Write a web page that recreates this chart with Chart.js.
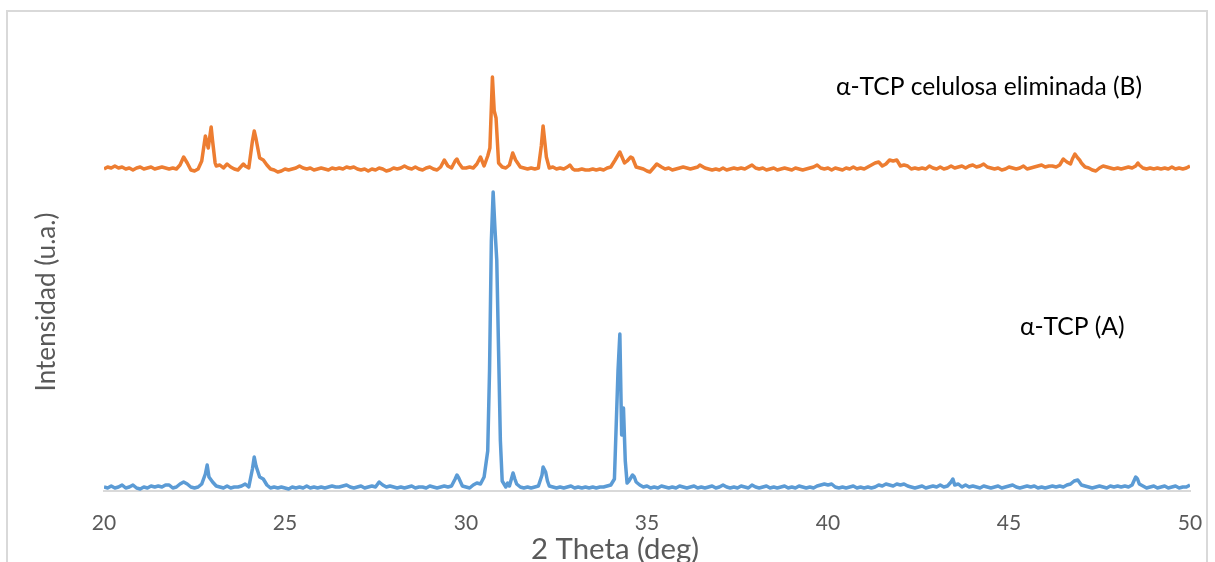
<!DOCTYPE html>
<html><head><meta charset="utf-8">
<script src="https://cdn.jsdelivr.net/npm/chart.js@4.4.0/dist/chart.umd.min.js"></script>
<style>
html,body{margin:0;padding:0;background:#fff;}
#wrap{position:relative;width:1215px;height:562px;overflow:hidden;background:#fff;}
#frame{position:absolute;left:6px;top:10px;width:1202px;height:620px;border:2px solid #d9d9d9;box-sizing:border-box;}
canvas{position:absolute;left:0;top:0;}
</style></head><body>
<div id="wrap"><div id="frame"></div><canvas id="c" width="1215" height="562"></canvas></div>
<script>
// ---- data (intensity in arbitrary units) ----
const xTicks = [20, 25, 30, 35, 40, 45, 50];
const seriesNames = ["α-TCP (A)", "α-TCP celulosa eliminada (B)"];
const xTitle = "2 Theta (deg)";
const yTitle = "Intensidad (u.a.)";

const thetaA = [
20.0,20.1,20.2,20.3,20.4,20.5,20.6,20.7,20.8,20.9,
21.0,21.1,21.2,21.3,21.4,21.5,21.6,21.7,21.8,21.9,
22.0,22.1,22.2,22.3,22.4,22.5,22.6,22.7,22.8,22.85,22.9,
23.0,23.1,23.2,23.3,23.4,23.5,23.6,23.7,23.8,23.9,
24.0,24.1,24.15,24.2,24.3,24.4,24.5,24.6,24.7,24.8,24.9,
25.0,25.1,25.2,25.3,25.4,25.5,25.6,25.7,25.8,25.9,
26.0,26.1,26.2,26.3,26.4,26.5,26.6,26.7,26.8,26.9,
27.0,27.1,27.2,27.3,27.4,27.5,27.6,27.7,27.8,27.9,
28.0,28.1,28.2,28.3,28.4,28.5,28.6,28.7,28.8,28.9,
29.0,29.1,29.2,29.3,29.4,29.5,29.6,29.7,29.75,29.8,29.9,
30.0,30.1,30.2,30.3,30.4,30.5,30.6,30.65,30.7,30.75,30.8,30.85,30.9,30.95,
31.0,31.1,31.15,31.2,31.3,31.35,31.4,31.5,31.6,31.7,31.8,31.9,
32.0,32.1,32.13,32.2,32.25,32.3,32.4,32.5,32.6,32.7,32.8,32.9,
33.0,33.1,33.2,33.3,33.4,33.5,33.6,33.7,33.8,33.9,
34.0,34.1,34.2,34.25,34.3,34.35,34.4,34.45,34.5,34.6,34.65,34.7,34.8,34.9,
35.0,35.1,35.2,35.3,35.4,35.5,35.6,35.7,35.8,35.9,
36.0,36.1,36.2,36.3,36.4,36.5,36.6,36.7,36.8,36.9,
37.0,37.1,37.2,37.3,37.4,37.5,37.6,37.7,37.8,37.9,
38.0,38.1,38.2,38.3,38.4,38.5,38.6,38.7,38.8,38.9,
39.0,39.1,39.2,39.3,39.4,39.5,39.6,39.7,39.8,39.9,
40.0,40.1,40.2,40.3,40.4,40.5,40.6,40.7,40.8,40.9,
41.0,41.1,41.2,41.3,41.4,41.5,41.6,41.7,41.8,41.9,
42.0,42.1,42.2,42.3,42.4,42.5,42.6,42.7,42.8,42.9,
43.0,43.1,43.2,43.3,43.4,43.45,43.5,43.6,43.7,43.8,43.9,
44.0,44.1,44.2,44.3,44.4,44.5,44.6,44.7,44.8,44.9,
45.0,45.1,45.2,45.3,45.4,45.5,45.6,45.7,45.8,45.9,
46.0,46.1,46.2,46.3,46.4,46.5,46.6,46.7,46.8,46.9,
47.0,47.1,47.2,47.3,47.4,47.5,47.6,47.7,47.8,47.9,
48.0,48.1,48.2,48.3,48.4,48.5,48.55,48.6,48.7,48.8,48.9,
49.0,49.1,49.2,49.3,49.4,49.5,49.6,49.7,49.8,49.9,50.0];
const intA = [
4,3,5,3,4,6,3,4,6,3,
2,4,3,5,4,5,4,6,6,3,
4,7,9,7,4,3,4,7,17,26,14,
9,5,4,3,5,3,4,4,5,7,
4,22,34,25,14,12,6,3,4,3,4,
3,2,4,3,4,3,5,3,4,3,
4,3,4,5,4,4,5,6,4,3,
4,5,3,4,5,4,9,6,4,5,
4,3,4,3,4,5,3,4,4,3,
5,4,3,4,5,4,5,12,16,13,5,
4,3,6,8,7,14,40,120,250,299,262,231,140,50,
10,4,8,5,18,12,7,4,3,4,3,4,
5,16,24,19,10,5,4,3,4,3,4,5,
3,4,3,4,3,4,3,4,4,5,
6,12,121,157,56,83,30,8,10,16,14,9,6,4,
5,3,4,3,5,4,3,4,3,5,
4,3,4,5,3,4,3,4,5,3,
4,6,4,3,4,3,5,4,3,6,
4,3,4,5,3,4,3,4,5,3,
4,3,5,4,3,4,3,5,6,7,
6,7,4,3,4,3,4,5,3,4,
3,4,3,4,6,5,7,6,5,7,
6,7,5,4,3,4,5,3,4,5,
4,6,4,5,9,12,6,7,4,6,4,
5,4,3,5,4,3,4,5,3,4,
5,6,4,3,4,5,4,5,3,4,
3,4,5,4,5,4,6,7,10,11,
6,5,4,3,4,5,4,3,5,4,
5,4,5,4,6,14,12,7,5,3,4,
5,3,4,5,3,4,5,3,4,4,6];

const thetaB = [
20.0,20.1,20.2,20.3,20.4,20.5,20.6,20.7,20.8,20.9,
21.0,21.1,21.2,21.3,21.4,21.5,21.6,21.7,21.8,21.9,
22.0,22.1,22.2,22.3,22.4,22.5,22.6,22.7,22.8,22.88,22.96,
23.0,23.07,23.1,23.2,23.3,23.4,23.5,23.6,23.7,23.8,23.85,23.9,
24.0,24.1,24.15,24.2,24.3,24.4,24.5,24.6,24.7,24.8,24.9,
25.0,25.1,25.2,25.3,25.4,25.5,25.6,25.7,25.8,25.9,
26.0,26.1,26.2,26.3,26.4,26.5,26.6,26.7,26.8,26.9,
27.0,27.1,27.2,27.3,27.4,27.5,27.6,27.7,27.8,27.9,
28.0,28.1,28.2,28.3,28.4,28.5,28.6,28.7,28.8,28.9,
29.0,29.1,29.2,29.3,29.4,29.5,29.6,29.7,29.75,29.8,29.9,
30.0,30.1,30.2,30.3,30.4,30.5,30.6,30.66,30.73,30.78,30.83,30.9,
31.0,31.1,31.2,31.29,31.37,31.5,31.6,31.7,31.8,31.9,
32.0,32.08,32.13,32.18,32.22,32.3,32.4,32.5,32.6,32.7,32.8,32.87,32.95,
33.0,33.1,33.2,33.3,33.4,33.5,33.6,33.7,33.8,33.9,
34.0,34.12,34.25,34.38,34.45,34.55,34.6,34.7,34.8,34.9,
35.0,35.08,35.2,35.27,35.4,35.5,35.6,35.7,35.8,35.9,
36.0,36.1,36.2,36.3,36.4,36.46,36.6,36.7,36.8,36.9,
37.0,37.1,37.2,37.3,37.4,37.5,37.6,37.7,37.8,37.9,
38.0,38.1,38.2,38.3,38.4,38.5,38.6,38.7,38.8,38.9,
39.0,39.1,39.2,39.3,39.4,39.5,39.6,39.7,39.8,39.9,
40.0,40.1,40.2,40.3,40.4,40.5,40.6,40.7,40.8,40.9,
41.0,41.1,41.2,41.3,41.4,41.5,41.6,41.7,41.8,41.9,
42.0,42.1,42.2,42.3,42.4,42.5,42.6,42.7,42.8,42.9,
43.0,43.1,43.2,43.3,43.4,43.5,43.6,43.7,43.8,43.9,
44.0,44.1,44.2,44.3,44.4,44.5,44.6,44.7,44.8,44.9,
45.0,45.1,45.2,45.3,45.4,45.5,45.6,45.7,45.8,45.9,
46.0,46.1,46.2,46.3,46.4,46.5,46.6,46.7,46.75,46.82,46.9,46.95,
47.0,47.1,47.2,47.3,47.4,47.5,47.6,47.7,47.8,47.9,
48.0,48.1,48.2,48.3,48.4,48.5,48.56,48.6,48.7,48.8,48.9,
49.0,49.1,49.2,49.3,49.4,49.5,49.6,49.7,49.8,49.9,50.0];
const intB = [
322,324,323,325,323,324,322,323,321,323,
324,322,323,324,322,323,324,323,322,323,
322,326,334,328,321,320,322,330,355,343,364,
350,328,325,326,323,327,324,322,321,325,327,325,
323,350,360,352,333,331,326,322,321,319,320,
322,321,322,323,325,323,322,323,321,322,
323,322,321,323,322,323,322,324,323,324,
322,321,322,320,322,321,323,322,320,321,
323,322,323,325,323,322,324,322,321,323,
324,322,321,324,331,325,323,330,332,328,323,
323,324,323,327,334,325,335,343,414,380,373,328,
324,323,326,338,331,324,323,322,323,322,
323,345,365,348,334,323,324,322,323,322,324,326,322,
321,321,322,321,321,322,321,322,321,323,
324,331,339,328,330,334,333,324,323,322,
320,319,324,327,324,322,323,321,322,323,
324,323,322,323,324,326,323,322,321,322,
321,323,321,322,323,322,323,322,324,326,
323,322,323,321,322,323,321,322,323,322,
321,323,322,321,322,323,324,326,323,322,
323,321,323,322,321,323,322,324,322,323,
322,324,326,328,329,325,327,331,330,331,
325,326,325,322,323,322,323,322,325,323,
322,324,322,323,325,323,324,325,323,325,
326,324,325,327,324,323,322,323,321,322,
324,323,322,323,325,322,323,324,325,326,
324,325,325,324,326,332,329,327,332,337,333,331,
328,324,323,321,320,323,325,324,323,322,
323,322,323,324,323,325,328,326,323,322,323,
322,323,322,323,322,324,322,323,322,323,325];

// ---- chart ----
const toPts = (xs, ys) => xs.map((x, i) => ({ x: x, y: ys[i] }));

const textPlugin = {
  id: 'texts',
  afterDraw(chart) {
    const ctx = chart.ctx;
    const fam = 'Lato, "Open Sans", sans-serif';
    function fitSize(text, width) {
      ctx.font = '100px ' + fam;
      return 100 * width / ctx.measureText(text).width;
    }
    ctx.save();
    const ys = fitSize(yTitle, 179);
    ctx.font = ys + 'px ' + fam;
    ctx.fillStyle = '#595959';
    ctx.textAlign = 'center';
    ctx.textBaseline = 'middle';
    ctx.translate(47, 302);
    ctx.rotate(-Math.PI / 2);
    ctx.fillText(yTitle, 0, 0);
    ctx.restore();
    ctx.save();
    const xs = fitSize(xTitle, 168);
    ctx.font = xs + 'px ' + fam;
    ctx.fillStyle = '#595959';
    ctx.textAlign = 'center';
    ctx.textBaseline = 'middle';
    ctx.fillText(xTitle, 615, 550);
    const ls = fitSize(seriesNames[1], 306);
    ctx.font = ls + 'px ' + fam;
    ctx.fillStyle = '#000000';
    ctx.textAlign = 'left';
    ctx.fillText(seriesNames[1], 836, 87);
    ctx.fillText(seriesNames[0], 1020, 327);
    ctx.restore();
  }
};

new Chart(document.getElementById('c'), {
  type: 'line',
  data: {
    datasets: [
      { label: seriesNames[0], data: toPts(thetaA, intA), borderColor: '#5B9BD5', borderWidth: 3.5, pointRadius: 0, tension: 0, fill: false, borderJoinStyle: 'round' },
      { label: seriesNames[1], data: toPts(thetaB, intB), borderColor: '#ED7D31', borderWidth: 3.5, pointRadius: 0, tension: 0, fill: false, borderJoinStyle: 'round' }
    ]
  },
  options: {
    responsive: false,
    animation: false,
    layout: { padding: { left: 104, right: 25, top: 21, bottom: 0 } },
    plugins: { legend: { display: false }, tooltip: { enabled: false } },
    scales: {
      x: {
        type: 'linear', min: 20, max: 50,
        afterBuildTicks: (s) => { s.ticks = xTicks.map(v => ({ value: v })); },
        afterFit: (s) => { s.height = 71; s.paddingLeft = 0; s.paddingRight = 0; },
        grid: { display: false, drawTicks: true, tickLength: 20 },
        border: { display: true, color: '#d9d9d9', width: 2 },
        ticks: { color: '#595959', font: { family: 'Lato', size: 21 }, padding: 0, maxRotation: 0, autoSkip: false }
      },
      y: { display: false, min: 0, max: 470 }
    }
  },
  plugins: [textPlugin]
});
</script>
</body></html>
